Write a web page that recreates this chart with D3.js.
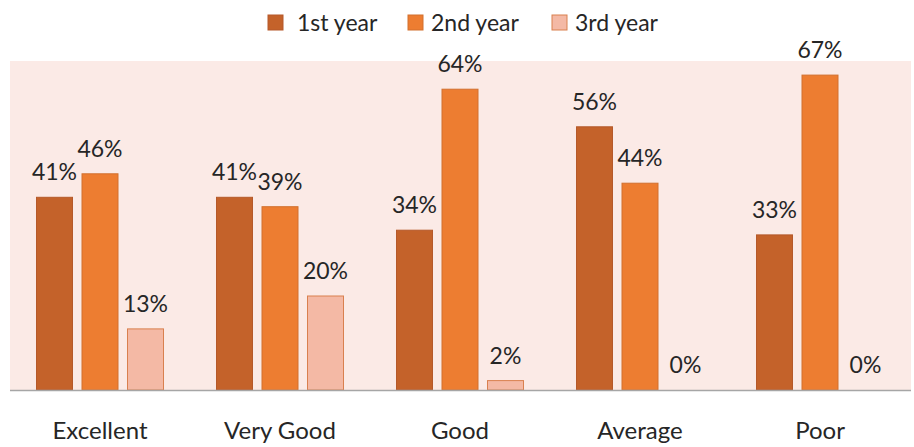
<!DOCTYPE html>
<html>
<head>
<meta charset="utf-8">
<script src="https://cdn.jsdelivr.net/npm/d3@7"></script>
<style>
  body { margin: 0; background: #fff; }
  svg text { font-family: Lato, "Open Sans", sans-serif; fill: #262626; }
</style>
</head>
<body>
<div id="chart"></div>
<script>
var categories = ["Excellent", "Very Good", "Good", "Average", "Poor"];
var seriesNames = ["1st year", "2nd year", "3rd year"];
var firstYear = [41, 41, 34, 56, 33];
var secondYear = [46, 39, 64, 44, 67];
var thirdYear = [13, 20, 2, 0, 0];

var values = [firstYear, secondYear, thirdYear];
var fills = ["#C4622A", "#ED7D31", "#F4B9A5"];
var strokes = ["#B5592A", "#D2702E", "#D9804F"];

var width = 914, height = 447;
var plotLeft = 10, plotRight = 911, plotTop = 61, plotBottom = 390;

var svg = d3.select("#chart").append("svg")
    .attr("width", width)
    .attr("height", height);

var x0 = d3.scaleBand().domain(categories).range([plotLeft, plotLeft + 900]).paddingInner(0).paddingOuter(0);
var y = d3.scaleLinear().domain([0, 70]).range([plotBottom, plotTop]);

// plot background
svg.append("rect")
    .attr("x", plotLeft)
    .attr("y", plotTop)
    .attr("width", plotRight - plotLeft)
    .attr("height", plotBottom - plotTop)
    .style("fill", "#FBEAE6");

var barW = 36, step = 45.5;

seriesNames.forEach(function(s, si) {
    var bx = function(d, i) { return x0(categories[i]) + x0.bandwidth() / 2 + (si - 1) * step - barW / 2; };
    svg.selectAll("rect.s" + si)
        .data(values[si])
        .enter().append("rect")
        .attr("class", "s" + si)
        .attr("x", bx)
        .attr("y", function(d) { return y(d); })
        .attr("width", barW)
        .attr("height", function(d) { return plotBottom - y(d); })
        .style("fill", fills[si])
        .style("stroke", strokes[si])
        .style("stroke-width", 1)
        .style("display", function(d) { return d > 0 ? null : "none"; });
    svg.selectAll("text.l" + si)
        .data(values[si])
        .enter().append("text")
        .attr("class", "l" + si)
        .attr("x", function(d, i) { return bx(d, i) + barW / 2; })
        .attr("y", function(d) { return y(d) - 25; })
        .attr("dy", ".35em")
        .attr("text-anchor", "middle")
        .style("font-size", "23px")
        .text(function(d) { return d + "%"; });
});

// x axis line
svg.append("line")
    .attr("x1", plotLeft)
    .attr("x2", plotRight)
    .attr("y1", plotBottom + 0.5)
    .attr("y2", plotBottom + 0.5)
    .style("stroke", "#A6A6A6")
    .style("stroke-width", 1.5);

var xAxis = svg.append("g")
    .attr("transform", "translate(0," + plotBottom + ")")
    .call(d3.axisBottom(x0).tickSize(0).tickPadding(32));
xAxis.select(".domain").remove();
xAxis.selectAll("text")
    .style("font-size", "24px")
    .style("font-family", "Lato, 'Open Sans', sans-serif")
    .attr("fill", "#262626");

// legend
var legendX = [268, 408, 552];
var legend = svg.selectAll("g.legend")
    .data(seriesNames)
    .enter().append("g")
    .attr("class", "legend")
    .attr("transform", function(d, i) { return "translate(" + legendX[i] + ",15)"; });
legend.append("rect")
    .attr("width", 15)
    .attr("height", 15)
    .style("fill", function(d, i) { return fills[i]; })
    .style("stroke", function(d, i) { return strokes[i]; });
legend.append("text")
    .attr("x", function(d, i) { return i === 0 ? 29 : 23; })
    .attr("y", 8)
    .attr("dy", ".35em")
    .style("font-size", "23px")
    .text(function(d) { return d; });
</script>
</body>
</html>
